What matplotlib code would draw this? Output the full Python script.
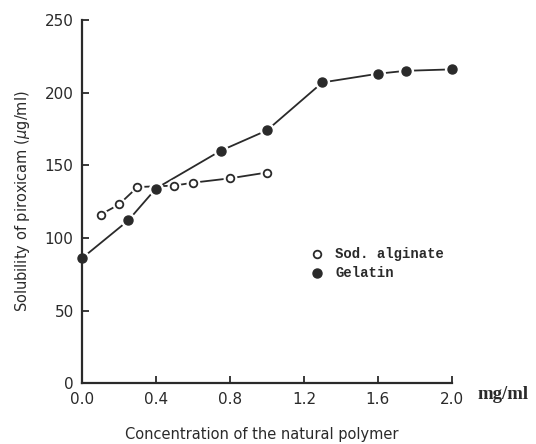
import matplotlib
matplotlib.use("Agg")
import matplotlib.pyplot as plt

# 数据：从图中读取
alg_x = [0.1, 0.2, 0.3, 0.5, 0.6, 0.8, 1.0]
alg_y = [116, 123, 135, 136, 138, 141, 145]

gel_x = [0.0, 0.25, 0.4, 0.75, 1.0, 1.3, 1.6, 1.75, 2.0]
gel_y = [86, 112, 134, 160, 174, 207, 213, 215, 216]

x_ticks = [0.0, 0.4, 0.8, 1.2, 1.6, 2.0]
y_ticks = [0, 50, 100, 150, 200, 250]

ink = "#2a2a2a"

fig = plt.figure(figsize=(5.36, 4.44), dpi=100)
ax = fig.add_axes([0.153, 0.137, 0.69, 0.818])

# 先画线，再用白色大圆制造线与点之间的空隙
ax.plot(gel_x, gel_y, color=ink, lw=1.3, zorder=1)
ax.plot(alg_x, alg_y, color=ink, lw=1.3, zorder=1)
ax.plot(gel_x, gel_y, "o", ms=10, color="white", mec="white", zorder=2, clip_on=False)
ax.plot(alg_x, alg_y, "o", ms=9, color="white", mec="white", zorder=2)
ax.plot(gel_x, gel_y, "o", ms=6.5, color=ink, mec=ink, zorder=3, clip_on=False)
ax.plot(alg_x, alg_y, "o", ms=5.5, mfc="white", mec=ink, mew=1.3, zorder=3)

ax.set_xlim(0, 2.0)
ax.set_ylim(0, 250)
ax.set_xticks(x_ticks)
ax.set_xticklabels([f"{v:.1f}" for v in x_ticks])
ax.set_yticks(y_ticks)

for s in ["top", "right"]:
    ax.spines[s].set_visible(False)
for s in ["left", "bottom"]:
    ax.spines[s].set_linewidth(1.6)
    ax.spines[s].set_color(ink)

ax.tick_params(direction="in", length=5, width=1.3, color=ink,
               labelsize=11, labelcolor=ink, pad=6)

ax.set_ylabel("Solubility of piroxicam ($\\mu$g/ml)", fontsize=10.5, color=ink)
ax.yaxis.set_label_coords(-0.135, 0.5)
ax.set_xlabel("Concentration of the natural polymer", fontsize=10.5, color=ink)
ax.xaxis.set_label_coords(0.485, -0.122)

# 图例（手工）
mono = "Liberation Mono"
ax.plot([1.27], [89], "o", ms=5.5, mfc="white", mec=ink, mew=1.3, clip_on=False)
ax.plot([1.27], [76], "o", ms=6.5, color=ink, clip_on=False)
ax.text(1.37, 89, "Sod. alginate", fontsize=10, family=mono, weight="bold",
        va="center", color=ink)
ax.text(1.37, 76, "Gelatin", fontsize=10, family=mono, weight="bold",
        va="center", color=ink)

ax.text(2.14, -8, "mg/ml", fontsize=13.5, family="Liberation Serif", weight="bold",
        va="center", color=ink, clip_on=False)

fig.savefig("out.png", dpi=100)
